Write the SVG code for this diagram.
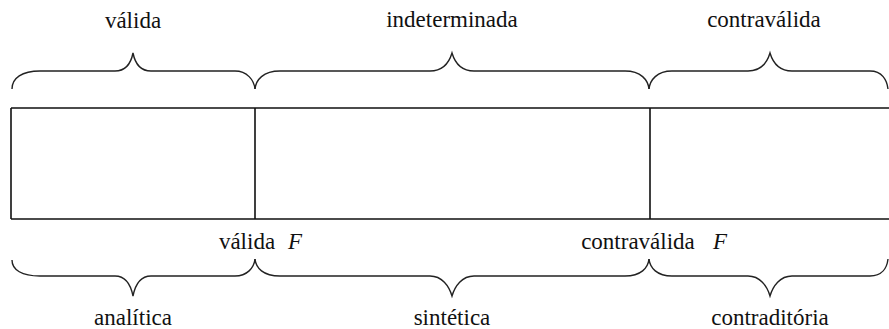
<svg xmlns="http://www.w3.org/2000/svg" width="889" height="329" viewBox="0 0 889 329">
<style>
.t{font-size:23px;fill:#111;text-anchor:middle}
.i{font-style:italic}
.b{fill:none;stroke:#222;stroke-width:1.4}
.r{fill:none;stroke:#111;stroke-width:1.6}
</style>
<rect width="889" height="329" fill="#fff"/>
<g id="box">
<path class="r" d="M11,108 L889,108 M11,219 L889,219 M11,108 L11,219 M255,108 L255,219 M650,108 L650,219"/>
</g>
<g id="braces">
<path id="brace-valida" class="b" d="M12,89 C12,78 22,71 40,71 L115,71 C126,71 131,63 133,53 C135,63 140,71 151,71 L235,71 C247,71 254,80 255,89"/>
<path id="brace-indeterminada" class="b" d="M255,89 C256,80 263,71 280,71 L430,71 C442,71 449,63 452,53 C455,63 462,71 474,71 L625,71 C641,71 648,80 649,89"/>
<path id="brace-contravalida" class="b" d="M649,89 C650,80 657,71 672,71 L748,71 C760,71 767,63 770,53 C773,63 780,71 792,71 L870,71 C882,71 887,80 888,89"/>
<path id="brace-analitica" class="b" d="M12,260 C12,270 22,276 40,276 L115,276 C126,276 131,286 133,296 C135,286 140,276 151,276 L235,276 C247,276 254,268 255,259"/>
<path id="brace-sintetica" class="b" d="M255,259 C256,268 263,276 280,276 L430,276 C442,276 449,286 452,296 C455,286 462,276 474,276 L625,276 C641,276 648,268 649,259"/>
<path id="brace-contraditoria" class="b" d="M649,259 C650,268 657,276 672,276 L748,276 C760,276 767,286 770,296 C773,286 780,276 792,276 L870,276 C882,276 887,268 888,259"/>
</g>
<g id="labels" font-family="Liberation Serif, Times New Roman, DejaVu Serif, serif">
<text class="t" x="133" y="28">válida</text>
<text class="t" x="452" y="27">indeterminada</text>
<text class="t" x="764" y="27">contraválida</text>
<text class="t" x="133" y="325">analítica</text>
<text class="t" x="452" y="325">sintética</text>
<text class="t" x="770" y="325">contraditória</text>
<text class="t" x="247" y="249">válida</text>
<text class="t i" x="295" y="249">F</text>
<text class="t" x="638" y="249">contraválida</text>
<text class="t i" x="720" y="249">F</text>
</g>
</svg>
